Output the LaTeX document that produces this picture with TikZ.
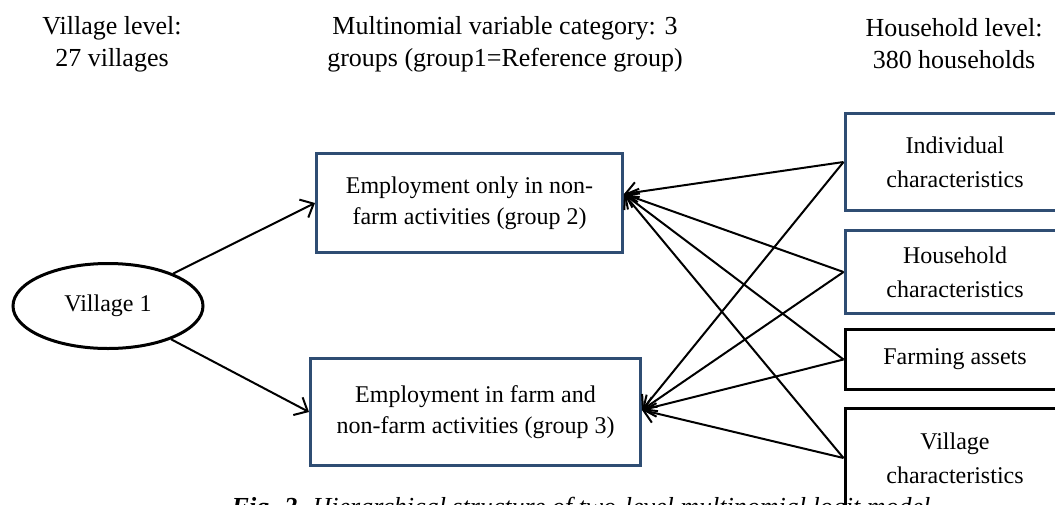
\documentclass[tikz,border=0pt]{standalone}
\usepackage{fontspec}
\setmainfont{Liberation Serif}
\usepackage{xcolor}
\usetikzlibrary{shapes,arrows.meta,positioning,calc}
\definecolor{boxblue}{RGB}{47,77,115}

\begin{document}
\begin{tikzpicture}[
    x=1pt, y=-1pt,
    level/.style={align=center, font=\fontsize{26}{32}\selectfont},
    group/.style={rectangle, draw=boxblue, line width=3pt, align=center, font=\fontsize{24}{31}\selectfont},
    bluevar/.style={rectangle, draw=boxblue, line width=3pt, align=center, minimum width=220pt, font=\fontsize{24}{34}\selectfont},
    blackvar/.style={bluevar, draw=black},
    village/.style={ellipse, draw=black, line width=3pt, minimum width=190pt, minimum height=85pt, font=\fontsize{24}{30}\selectfont},
    arrow/.style={-{Straight Barb[length=11pt, width=20pt]}, line width=2pt},
]
\clip (0,0) rectangle (1055,504);

% Level headings
\node[level] (lvlvil) at (112,44) {Village level:\\27 villages};
\node[level] (lvlcat) at (505,44) {Multinomial variable category: 3\\groups (group1=Reference group)};
\node[level] (lvlhh) at (954,44) {Household level:\\380 households};

% Village level
\node[village] (v1) at (108,306) {Village 1};

% Outcome groups
\node[group, minimum width=306pt, minimum height=99pt] (g2) at (469.5,203) {Employment only in non-\\farm activities (group 2)};
\node[group, minimum width=330pt, minimum height=107pt] (g3) at (475.5,412) {Employment in farm and\\non-farm activities (group 3)};
\coordinate (g2in) at ([yshift=9pt]g2.east);
\coordinate (g3in) at ([yshift=2pt]g3.east);

% Household level variables
\node[bluevar, minimum height=97pt] (ind) at (955,162) {Individual\\characteristics};
\node[bluevar, minimum height=83pt] (hh) at (955,272) {Household\\characteristics};
\node[blackvar, minimum height=60pt] (fa) at (955,359.5) {Farming assets};
\node[blackvar, minimum height=99pt] (vc) at (955,458) {Village\\characteristics};

% Arrows - village to groups
\draw[arrow] (v1) -- (g2.west);
\draw[arrow] (v1) -- (g3.west);

% Arrows - variables to groups
\foreach \src in {ind,hh,fa,vc} {
    \draw[arrow] (\src.west) -- (g2in);
    \draw[arrow] (\src.west) -- (g3in);
}

% Caption
\node[anchor=base, font=\fontsize{26}{30}\selectfont\itshape] (cap) at (581,515) {\textbf{Fig. 2.} Hierarchical structure of two-level multinomial logit model};

\end{tikzpicture}
\end{document}
